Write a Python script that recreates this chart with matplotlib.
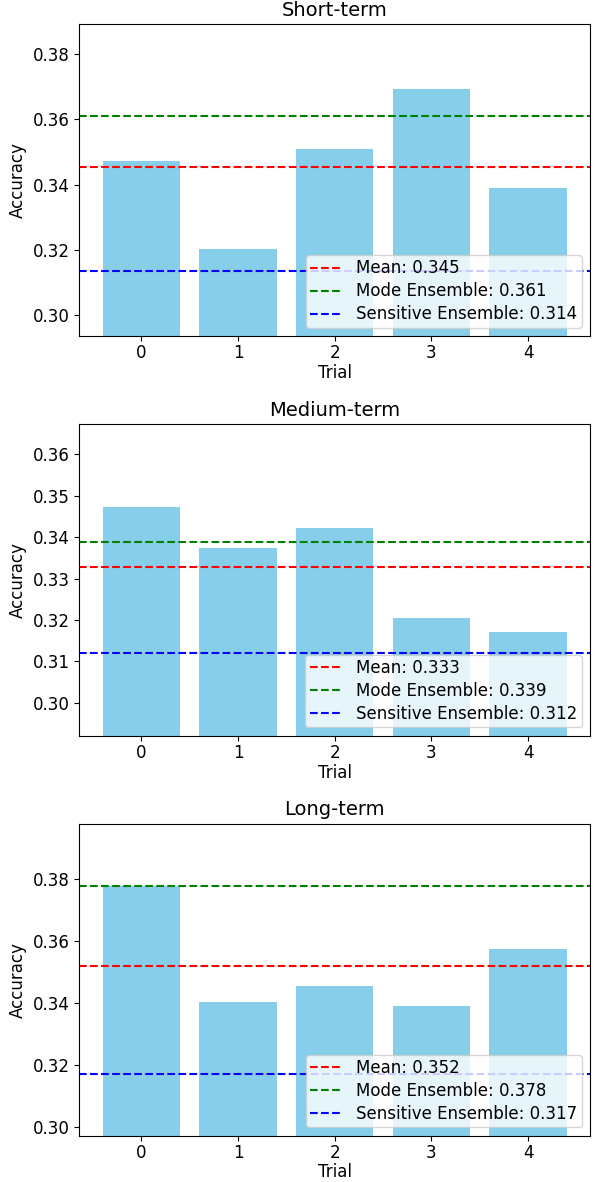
import matplotlib
matplotlib.use("Agg")
import matplotlib.pyplot as plt
import numpy as np

titles = ["Short-term", "Medium-term", "Long-term"]
trials = [0, 1, 2, 3, 4]

short_acc = [0.3474, 0.3204, 0.3508, 0.3693, 0.3389]
medium_acc = [0.3474, 0.3373, 0.3423, 0.3204, 0.3170]
long_acc = [0.3780, 0.3405, 0.3457, 0.3390, 0.3576]

mode_ensemble = [0.3611, 0.3389, 0.3779]
sensitive_ensemble = [0.3136, 0.3120, 0.3172]

plt.rcParams["font.size"] = 12

fig, axes = plt.subplots(3, 1, figsize=(5.95, 11.82), dpi=100)
fig.subplots_adjust(left=0.1336, right=0.9916, top=0.9797, bottom=0.0392, hspace=0.282)

for ax, title, acc, mode, sens in zip(axes, titles, [short_acc, medium_acc, long_acc],
                                      mode_ensemble, sensitive_ensemble):
    mean = np.mean(acc)
    ax.bar(trials, acc, color="skyblue")
    ax.axhline(mean, color="red", linestyle="--", label=f"Mean: {mean:.3f}")
    ax.axhline(mode, color="green", linestyle="--", label=f"Mode Ensemble: {mode:.3f}")
    ax.axhline(sens, color="blue", linestyle="--", label=f"Sensitive Ensemble: {sens:.3f}")
    # y range: 0.02 below lowest value, 0.02 above highest
    lo = min(min(acc), mean, mode, sens)
    hi = max(max(acc), mean, mode, sens)
    ax.set_ylim(lo - 0.02, hi + 0.02)
    ax.set_xticks(trials)
    ax.tick_params(axis="x", pad=2.5)
    ax.set_title(title, fontsize=14)
    ax.set_xlabel("Trial", labelpad=1)
    ax.set_ylabel("Accuracy")
    ax.legend(loc="lower right", labelspacing=0.3, borderpad=0.25)

plt.savefig("out.png")
plt.close()
